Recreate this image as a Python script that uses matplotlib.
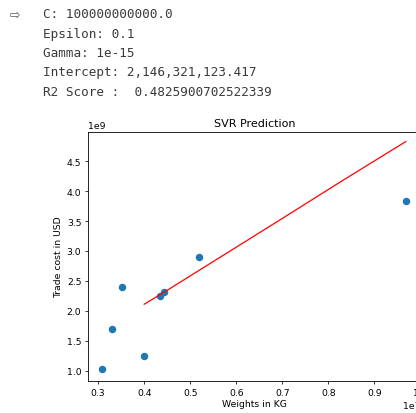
import numpy as np
import matplotlib.pyplot as plt

# printed model summary
info_lines = ["C: 100000000000.0",
              "Epsilon: 0.1",
              "Gamma: 1e-15",
              "Intercept: 2,146,321,123.417",
              "R2 Score :  0.4825900702522339"]

# scatter data (weights in kg, trade cost in USD)
weights = np.array([0.309, 0.330, 0.352, 0.399, 0.434, 0.443, 0.519, 0.968]) * 1e7
costs = np.array([1.03, 1.70, 2.40, 1.25, 2.24, 2.32, 2.90, 3.84]) * 1e9

# SVR predicted line
pred_x = np.array([0.400, 0.443, 0.701, 0.829, 0.968]) * 1e7
pred_y = np.array([2.11, 2.31, 3.55, 4.17, 4.83]) * 1e9

fig = plt.figure(figsize=(4.16, 4.14), dpi=100)

# output icon + text block
fig.text(10/416, 1 - 15/414, "\u21e8", fontsize=9, color="#555555",
         va="center", ha="left", family="DejaVu Sans")
for i, line in enumerate(info_lines):
    fig.text(43/416, 1 - (15 + i*19.3)/414, line, fontsize=9.1,
             family="DejaVu Sans Mono", color="#3a3a3a", va="center")

ax = fig.add_axes([88/416, 32/414, (421-88)/416, (382-133)/414])
ax.scatter(weights, costs, s=19, color="#1f77b4", zorder=2)
ax.plot(pred_x, pred_y, color="red", lw=0.9)
ax.set_ylim(0.826e9, 4.99e9)
ax.set_xlim(0.278e7, 1.001e7)

ax.set_title("SVR Prediction", fontsize=8, pad=4)
ax.set_xlabel("Weights in KG", fontsize=6.7, labelpad=2)
ax.set_ylabel("Trade cost in USD", fontsize=6.7, labelpad=3)
ax.tick_params(labelsize=6.7, length=2.4, width=0.55, pad=2.4)
ax.xaxis.get_offset_text().set_fontsize(6.7)
ax.yaxis.get_offset_text().set_fontsize(6.7)
for sp in ax.spines.values():
    sp.set_linewidth(0.6)

fig.savefig("out.png", dpi=100)
